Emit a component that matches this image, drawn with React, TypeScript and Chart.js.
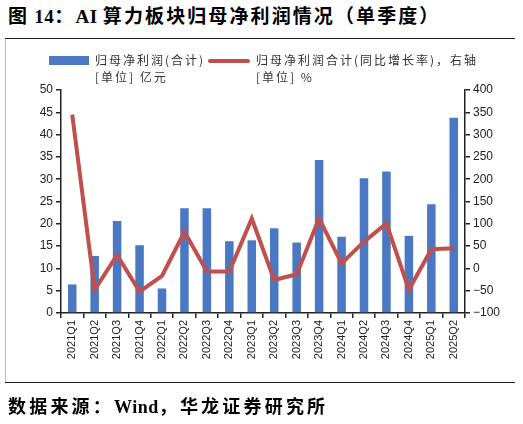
import React, { useEffect, useRef } from "react";
import { Chart, registerables } from "chart.js";

Chart.register(...registerables);

const categories = [
  "2021Q1", "2021Q2", "2021Q3", "2021Q4",
  "2022Q1", "2022Q2", "2022Q3", "2022Q4",
  "2023Q1", "2023Q2", "2023Q3", "2023Q4",
  "2024Q1", "2024Q2", "2024Q3", "2024Q4",
  "2025Q1", "2025Q2",
];
const netProfit = [
  6.4, 12.8, 20.6, 15.2,
  5.5, 23.5, 23.5, 16.1,
  16.3, 19.0, 15.8, 34.3,
  17.1, 30.2, 31.7, 17.3,
  24.4, 43.8,
];
const yoyGrowth = [
  345, -48, 30, -52,
  -17, 82, -7, -7,
  112, -26, -13, 112,
  11, 60, 101, -48,
  43, 45,
];
const leftTicks = { min: 0, max: 50, step: 5 };
const rightTicks = { min: -100, max: 400, step: 50 };

const title = "图 14：AI 算力板块归母净利润情况（单季度）";
const source = "数据来源：Wind，华龙证券研究所";
const legendBar = ["归母净利润(合计)", "[单位] 亿元"];
const legendLine = ["归母净利润合计(同比增长率)，右轴", "[单位] %"];

const BAR_COLOR = "#4A78C3";
const LINE_COLOR = "#C0504D";
const AXIS_COLOR = "#222";

function spaced(text: string, spacing: number) {
  // Latin runs stay tight, CJK runs get the wider spacing of the reference
  return text.split(/([A-Za-z0-9 ]+)/).filter((p) => p.length > 0).map((p, i) => (
    <span key={i} style={{ letterSpacing: /^[A-Za-z0-9 ]+$/.test(p) ? 0.5 : spacing }}>{p}</span>
  ));
}

export default function App() {
  const ref = useRef<HTMLCanvasElement | null>(null);

  useEffect(() => {
    if (!ref.current) return;
    const tickFont = { family: "'Liberation Sans', Arial, sans-serif", size: 12 };
    const chart = new Chart(ref.current, {
      data: {
        labels: categories,
        datasets: [
          {
            type: "line",
            label: legendLine[0],
            data: yoyGrowth,
            yAxisID: "y2",
            borderColor: LINE_COLOR,
            backgroundColor: LINE_COLOR,
            borderWidth: 4,
            pointRadius: 0,
            tension: 0,
            order: 0,
          },
          {
            type: "bar",
            label: legendBar[0],
            data: netProfit,
            yAxisID: "y",
            backgroundColor: BAR_COLOR,
            barPercentage: 0.38,
            categoryPercentage: 1,
            order: 1,
          },
        ],
      },
      options: {
        responsive: false,
        animation: false,
        layout: { padding: { top: 90, left: 0, right: 0, bottom: 0 } },
        plugins: { legend: { display: false }, tooltip: { enabled: false } },
        scales: {
          x: {
            offset: true,
            grid: {
              offset: true,
              drawOnChartArea: false,
              drawTicks: true,
              tickLength: 5,
              color: AXIS_COLOR,
              lineWidth: 1.5,
            },
            border: { display: true, color: AXIS_COLOR, width: 1.5 },
            ticks: {
              autoSkip: false,
              maxRotation: 90,
              minRotation: 90,
              padding: 2,
              color: "#222",
              font: { family: "'Liberation Sans', Arial, sans-serif", size: 11 },
            },
            afterFit: (s: any) => { s.height = 111; },
          },
          y: {
            position: "left",
            min: leftTicks.min,
            max: leftTicks.max,
            ticks: { stepSize: leftTicks.step, color: "#222", font: tickFont, padding: 3 },
            grid: {
              drawOnChartArea: false,
              drawTicks: true,
              tickLength: 5,
              color: AXIS_COLOR,
              lineWidth: 1.5,
            },
            border: { display: true, color: AXIS_COLOR, width: 1.5 },
            afterFit: (s: any) => { s.width = 61; },
          },
          y2: {
            position: "right",
            min: rightTicks.min,
            max: rightTicks.max,
            ticks: {
              stepSize: rightTicks.step,
              color: "#222",
              font: tickFont,
              padding: 3,
              callback: (v: any) => (Number(v) < 0 ? "\u2212" + Math.abs(Number(v)) : String(v)),
            },
            grid: {
              drawOnChartArea: false,
              drawTicks: true,
              tickLength: 5,
              color: AXIS_COLOR,
              lineWidth: 1.5,
            },
            border: { display: true, color: AXIS_COLOR, width: 1.5 },
            afterFit: (s: any) => { s.width = 58; },
          },
        },
      },
    } as any);
    return () => chart.destroy();
  }, []);

  const cjk = "'Noto Sans CJK SC', sans-serif";
  const headFont = "'Liberation Serif', 'Noto Sans CJK SC', serif";
  const legendText: React.CSSProperties = {
    position: "absolute",
    fontFamily: cjk,
    fontSize: 12,
    letterSpacing: 2,
    color: "#333",
    whiteSpace: "nowrap",
    lineHeight: "17px",
  };

  return (
    <div style={{ position: "absolute", left: 0, top: 0, width: 523, height: 424, background: "#fff" }}>
      <div
        style={{
          position: "absolute",
          left: 8,
          top: 5,
          fontFamily: headFont,
          fontWeight: "bold",
          fontSize: 19,
          lineHeight: "24px",
          whiteSpace: "nowrap",
          color: "#000",
        }}
      >
        {spaced(title, 2.1)}
      </div>
      <div style={{ position: "absolute", left: 5, top: 38, width: 510, height: 0, borderTop: "1.5px solid #222" }} />
      <div style={{ position: "absolute", left: 5, top: 39, width: 0, height: 344, borderLeft: "1px solid #bbb" }} />
      <div style={{ position: "absolute", left: 5, top: 382, width: 510, height: 0, borderTop: "1.5px solid #222" }} />
      <canvas ref={ref} width={523} height={424} style={{ position: "absolute", left: 0, top: 0 }} />
      <div style={{ position: "absolute", left: 49, top: 56, width: 40, height: 9, background: BAR_COLOR }} />
      <div style={{ ...legendText, left: 95, top: 51 }}>
        {legendBar[0]}
        <br />
        {legendBar[1]}
      </div>
      <div style={{ position: "absolute", left: 208, top: 59, width: 42, height: 4, background: LINE_COLOR, borderRadius: 2 }} />
      <div style={{ ...legendText, left: 256, top: 51 }}>
        {legendLine[0]}
        <br />
        {legendLine[1]}
      </div>
      <div
        style={{
          position: "absolute",
          left: 8,
          top: 395,
          fontFamily: headFont,
          fontWeight: "bold",
          fontSize: 18,
          lineHeight: "24px",
          whiteSpace: "nowrap",
          color: "#000",
        }}
      >
        {spaced(source, 3.2)}
      </div>
    </div>
  );
}
